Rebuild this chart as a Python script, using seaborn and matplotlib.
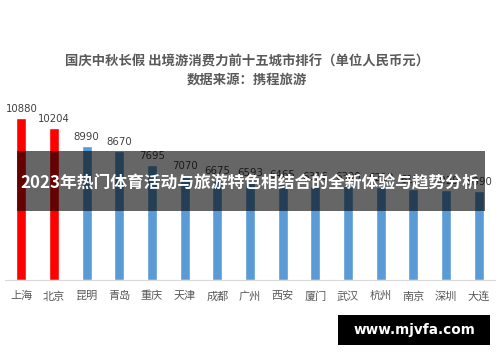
import matplotlib
matplotlib.use("Agg")
import matplotlib.pyplot as plt
import seaborn as sns
import pandas as pd
from matplotlib.patches import Rectangle

cities = ["上海", "北京", "昆明", "青岛", "重庆", "天津", "成都", "广州", "西安", "厦门", "武汉", "杭州", "南京", "深圳", "大连"]
values = [10880, 10204, 8990, 8670, 7695, 7070, 6675, 6593, 6465, 6316, 6300, 6212, 6111, 6029, 5990]
groups = ["top"] * 2 + ["rest"] * 13
title_line1 = "国庆中秋长假 出境游消费力前十五城市排行（单位人民币元）"
title_line2 = "数据来源：携程旅游"
banner = "2023年热门体育活动与旅游特色相结合的全新体验与趋势分析"
watermark = "www.mjvfa.com"

sns.set_theme(style="white")
plt.rcParams['font.family'] = ['Noto Sans CJK SC', 'DejaVu Sans']

df = pd.DataFrame({"city": cities, "value": values, "group": groups})

W, H = 500, 362
fig = plt.figure(figsize=(5, 3.62), dpi=100)
fig.patch.set_facecolor("white")
ax = fig.add_axes([5 / W, 82 / H, 490 / W, 178.7 / H])
sns.barplot(data=df, x="city", y="value", hue="group",
            palette={"top": "#FF0000", "rest": "#5B9BD5"},
            width=0.3, dodge=False, legend=False, ax=ax, saturation=1)
ax.set_ylim(0, 12000)
ax.set_xlim(-0.5, len(cities) - 0.5)
ax.set_xlabel("")
ax.set_ylabel("")
ax.set_yticks([])
for s in ["top", "left", "right"]:
    ax.spines[s].set_visible(False)
ax.spines["bottom"].set_color("#D9D9D9")
ax.spines["bottom"].set_linewidth(0.8)
ax.tick_params(axis="x", length=0, labelsize=8, colors="#595959", pad=8)
for i, v in enumerate(values):
    ax.annotate(str(v), (i, v), xytext=(0, 3), textcoords="offset points",
                ha="center", va="bottom", fontsize=7.3, color="#404040",
                family=['DejaVu Sans'])

fig.text(0.494, 1 - 61 / H, title_line1, ha="center", va="center",
         fontsize=9.6, color="#595959", fontweight="bold")
fig.text(0.494, 1 - 81 / H, title_line2, ha="center", va="center",
         fontsize=9.6, color="#595959", fontweight="bold")

fig.patches.append(Rectangle((17 / W, 1 - 211 / H), 468 / W, 60 / H,
                             transform=fig.transFigure, facecolor="black",
                             alpha=0.6, edgecolor="none", zorder=5))
fig.text(0.5, 1 - 184 / H, banner, ha="center", va="center",
         fontsize=12.1, color="white", fontweight="bold", zorder=6)

fig.patches.append(Rectangle((338 / W, 1 - 345 / H), 152 / W, 30 / H,
                             transform=fig.transFigure, facecolor="black",
                             edgecolor="none", zorder=5))
fig.text(414 / W, 1 - 330 / H, watermark, ha="center", va="center",
         fontsize=9.8, color="white", fontweight="bold", zorder=6,
         family=['DejaVu Sans'])

fig.savefig("out.png", dpi=100)
